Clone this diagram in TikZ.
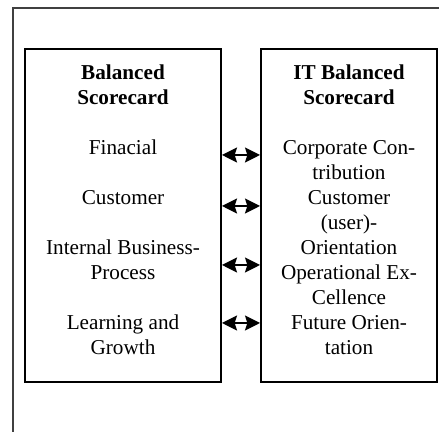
\documentclass[tikz,border=0pt]{standalone}
\usepackage{fontspec}
\setmainfont{Liberation Serif}
\usepackage{tikz}
\usetikzlibrary{arrows.meta}
\definecolor{framegray}{HTML}{404040}

\begin{document}
\begin{tikzpicture}[x=0.5pt, y=0.5pt,
    card/.style={rectangle, draw=black, line width=1pt, inner sep=0pt},
    cardtext/.style={anchor=north, inner sep=0pt, align=center, font=\fontsize{10.6pt}{12.5pt}\selectfont},
    link/.style={{Stealth[length=7.5pt,width=7.5pt,inset=1.2pt]}-{Stealth[length=7.5pt,width=7.5pt,inset=1.2pt]}, line width=0.8pt}
]
\useasboundingbox (0,0) rectangle (439,432);
\draw[framegray, line width=0.7pt] (439,424) -- (13,424) -- (13,0);

\node[card, minimum width=98pt, minimum height=166.5pt] (bsc) at (123,216.5) {};
\node[card, minimum width=88pt, minimum height=166.5pt] (itbsc) at (349,216.5) {};

\node[cardtext] (bsctext) at (123,368) {\textbf{Balanced}\\\textbf{Scorecard}\\[12.5pt]
  Finacial\\[12.5pt]Customer\\[12.5pt]Internal Business-\\Process\\[12.5pt]Learning and\\Growth};
\node[cardtext] (itbsctext) at (349,368) {\textbf{IT Balanced}\\\textbf{Scorecard}\\[12.5pt]
  Corporate Con-\\tribution\\Customer\\(user)-\\Orientation\\Operational Ex-\\Cellence\\Future Orien-\\tation};

% one link per perspective
\coordinate (financial) at (0,277);
\coordinate (customer) at (0,226);
\coordinate (process) at (0,167);
\coordinate (learning) at (0,109);
\draw[link] (bsc.east |- financial) -- (itbsc.west |- financial);
\draw[link] (bsc.east |- customer) -- (itbsc.west |- customer);
\draw[link] (bsc.east |- process) -- (itbsc.west |- process);
\draw[link] (bsc.east |- learning) -- (itbsc.west |- learning);
\end{tikzpicture}
\end{document}
